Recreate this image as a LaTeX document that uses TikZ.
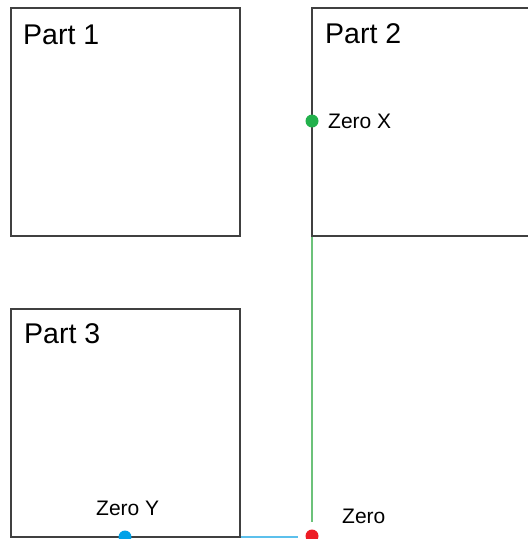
\documentclass[tikz,border=0pt]{standalone}
\usepackage{fontspec}
\setmainfont{Liberation Sans}
\definecolor{edge}{HTML}{404040}
\definecolor{zgreen}{HTML}{22B14C}
\definecolor{lgreen}{HTML}{6CC27A}
\definecolor{zblue}{HTML}{00A2E8}
\definecolor{lblue}{HTML}{5CC0EC}
\definecolor{zred}{HTML}{ED1C24}
\begin{document}
\begin{tikzpicture}[x=1pt,y=-1pt,
  partbox/.style={draw=edge,line width=1.3pt},
  parttitle/.style={anchor=base west,inner sep=0pt,font=\fontsize{28.5}{30}\selectfont},
  zerolabel/.style={anchor=base west,inner sep=0pt,font=\fontsize{21}{23}\selectfont},
  dot/.style={circle,fill=#1,draw=none,minimum size=13pt,inner sep=0pt}]
\useasboundingbox (0,0) rectangle (528,539);
\clip (0,0) rectangle (528,539);

% reference points
\coordinate (gx) at (312,121);
\coordinate (by) at (125,537);
\coordinate (org) at (312,536);
\coordinate (gend) at (312,522);
\coordinate (bend) at (298,537);

% axis lines towards the zero point
\draw[lgreen,line width=1.2pt] (gx) -- (gend);
\draw[lblue,line width=1.4pt] (by) -- (bend);

% part outlines
\draw[partbox] (11,8) rectangle (240,236);
\draw[partbox] (312,8) rectangle (545,236);
\draw[partbox] (11,309) rectangle (240,537);

\node[parttitle] (p1) at (23,44) {Part 1};
\node[parttitle] (p2) at (325,43) {Part 2};
\node[parttitle] (p3) at (24,343) {Part 3};

% zero markers
\node[dot=zgreen] (zx) at (gx) {};
\node[dot=zblue] (zy) at (by) {};
\node[dot=zred] (z0) at (org) {};

\node[zerolabel] (lx) at (328,128) {Zero X};
\node[zerolabel] (ly) at (96,515) {Zero Y};
\node[zerolabel] (l0) at (342,523) {Zero};
\end{tikzpicture}
\end{document}
